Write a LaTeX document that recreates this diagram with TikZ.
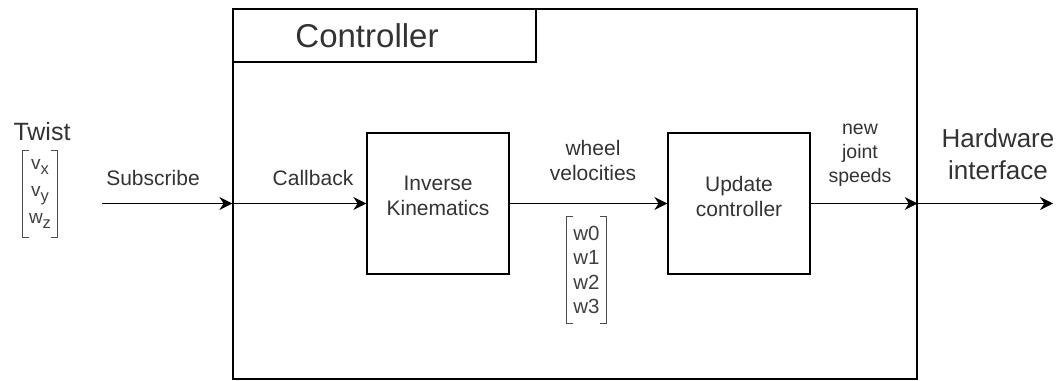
\documentclass[tikz,border=0pt]{standalone}
\usepackage{fontspec}
\setmainfont{Liberation Sans}
\usetikzlibrary{arrows.meta,positioning,calc}
\tikzset{
  box/.style={draw,line width=1.3pt,minimum width=142pt,minimum height=141pt,inner sep=0pt},
  frame/.style={draw,line width=1.3pt,inner sep=0pt},
  arr/.style={-{Stealth[length=13pt,width=13pt]},line width=1.3pt},
  lbl/.style={align=center,inner sep=0pt,text=black!80,font=\fontsize{21}{25}\selectfont},
  big/.style={align=center,inner sep=0pt,text=black!80,font=\fontsize{25}{32}\selectfont},
  vec/.style={align=center,inner sep=0pt,text=black!75},
  brk/.style={line width=1.2pt,draw=black!70},
}
\newcommand{\vecbrackets}[1]{%
  \draw[brk] ($(#1.north west)+(6,0)$) -- (#1.north west) -- (#1.south west) -- ++(6,0);
  \draw[brk] ($(#1.north east)+(-6,0)$) -- (#1.north east) -- (#1.south east) -- ++(-6,0);}
\newcommand{\sub}[1]{\raisebox{-5pt}{\fontsize{16.5}{16.5}\selectfont #1}}

\begin{document}
\begin{tikzpicture}[x=1pt,y=-1pt]
 \useasboundingbox (0,0) rectangle (1062,380);
 % controller frame and title
 \node[frame,minimum width=684pt,minimum height=370pt] (ctrl) at (575,194) {};
 \node[frame,minimum width=303pt,minimum height=53pt,anchor=north west] (titlebox) at (ctrl.north west) {};
 \node[big,font=\fontsize{33}{38}\selectfont] (title) at (367,36) {Controller};
 % blocks
 \node[box] (ik) at (438,203.5) {};
 \node[lbl] (iktext) at (438,196) {Inverse\\Kinematics};
 \node[box] (upd) at (739,203.5) {};
 \node[lbl] (updtext) at (739,196) {Update\\controller};
 % input and output
 \node[big] (twist) at (42,132) {Twist};
 \node[vec,font=\fontsize{19}{27}\selectfont,minimum width=34pt,minimum height=87pt] (twistvec) at (40,194)
   {v\sub{x}\\v\sub{y}\\w\sub{z}};
 \vecbrackets{twistvec}
 \node[big,font=\fontsize{26}{32}\selectfont] (hw) at (998,154) {Hardware\\interface};
 \coordinate (subin) at (102,203.5);
 \coordinate (hwout) at (1053,203.5);
 % connectors
 \draw[arr] (subin) -- (ik.west -| ctrl.west);
 \draw[arr] (ik.west -| ctrl.west) -- (ik.west);
 \draw[arr] (ik) -- (upd);
 \draw[arr] (upd.east) -- (upd.east -| ctrl.east);
 \draw[arr] (upd.east -| ctrl.east) -- (hwout);
 % connector labels
 \node[lbl] (subl) at (153,178) {Subscribe};
 \node[lbl] (cb) at (313,178) {Callback};
 \node[lbl] (wv) at (593,160) {wheel\\velocities};
 \node[lbl,font=\fontsize{19.5}{24}\selectfont] (njs) at (860,155) {new\\joint\\speeds};
 \node[vec,font=\fontsize{20.5}{24.5}\selectfont,minimum width=39pt,minimum height=106pt] (wvec) at (586.5,270)
   {w0\\w1\\w2\\w3};
 \vecbrackets{wvec}
\end{tikzpicture}
\end{document}
